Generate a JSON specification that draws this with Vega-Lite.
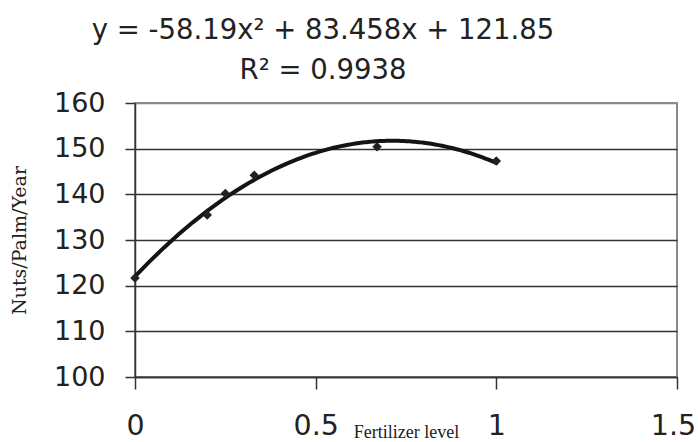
{
  "$schema": "https://vega.github.io/schema/vega-lite/v6.json",
  "width": 542,
  "height": 274,
  "autosize": {"type": "none"},
  "padding": {"left": 135, "top": 103, "right": 21, "bottom": 65},
  "background": "white",
  "title": {
    "text": ["y = -58.19x² + 83.458x + 121.85", "R² = 0.9938"],
    "font": "DejaVu Sans",
    "fontSize": 27.5,
    "fontWeight": "normal",
    "color": "#222",
    "anchor": "middle",
    "dx": -83,
    "offset": 5,
    "lineHeight": 40
  },
  "data": {
    "values": [
      {"level": 0, "nuts": 121.7},
      {"level": 0.2, "nuts": 135.5},
      {"level": 0.25, "nuts": 140.2},
      {"level": 0.33, "nuts": 144.2},
      {"level": 0.67, "nuts": 150.4},
      {"level": 1, "nuts": 147.3}
    ]
  },
  "config": {
    "view": {"stroke": "#8a8a8a", "strokeWidth": 2},
    "axis": {
      "labelFont": "DejaVu Sans",
      "labelColor": "#222",
      "domainColor": "#333",
      "domainWidth": 1.5,
      "tickColor": "#333",
      "tickWidth": 1.5,
      "titleFontWeight": "normal",
      "titleColor": "#222"
    }
  },
  "layer": [
    {
      "transform": [
        {"regression": "nuts", "on": "level", "method": "poly", "order": 2, "extent": [0, 1]}
      ],
      "mark": {"type": "line", "color": "#141414", "strokeWidth": 4, "strokeCap": "round"},
      "encoding": {
        "x": {"field": "level", "type": "quantitative"},
        "y": {"field": "nuts", "type": "quantitative"}
      }
    },
    {
      "mark": {"type": "point", "shape": "diamond", "filled": true, "size": 90, "color": "#222", "opacity": 1},
      "encoding": {
        "x": {
          "field": "level",
          "type": "quantitative",
          "scale": {"domain": [0, 1.5], "nice": false},
          "axis": {
            "values": [0, 0.5, 1, 1.5],
            "format": "~g",
            "grid": false,
            "tickSize": 12,
            "labelFontSize": 28.5,
            "labelBaseline": "alphabetic",
            "labelPadding": 45,
            "labelFlush": false,
            "labelOffset": {"condition": {"test": "datum.value == 1.5", "value": -4}, "value": 0},
            "title": "Fertilizer level",
            "titleFont": "Liberation Serif",
            "titleFontSize": 18,
            "titleX": 271,
            "titleY": 60,
            "titleBaseline": "alphabetic",
            "titleAlign": "center"
          }
        },
        "y": {
          "field": "nuts",
          "type": "quantitative",
          "scale": {"domain": [100, 160], "nice": false, "zero": false},
          "axis": {
            "values": [100, 110, 120, 130, 140, 150, 160],
            "grid": true,
            "gridColor": {"condition": {"test": "datum.value == 160", "value": "#8a8a8a"}, "value": "#333333"},
            "gridWidth": 1.3,
            "tickSize": 10,
            "labelFontSize": 27,
            "labelPadding": 20,
            "labelFlush": false,
            "title": "Nuts/Palm/Year",
            "titleFont": "DejaVu Serif",
            "titleFontSize": 19,
            "titleAngle": -90,
            "titleX": -116,
            "titleY": 137,
            "titleAlign": "center",
            "titleBaseline": "middle"
          }
        }
      }
    }
  ]
}
